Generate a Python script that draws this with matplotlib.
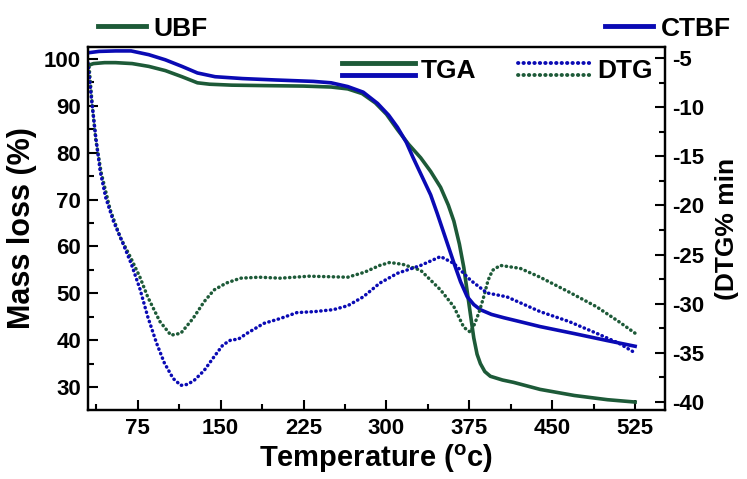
import matplotlib
matplotlib.use('Agg')
import matplotlib.pyplot as plt
from matplotlib.lines import Line2D
from matplotlib.legend_handler import HandlerBase
from matplotlib.ticker import MultipleLocator

plt.rcParams['font.family'] = ['Liberation Sans', 'DejaVu Sans']
plt.rcParams['font.weight'] = 'bold'
plt.rcParams['axes.labelweight'] = 'bold'
plt.rcParams['axes.unicode_minus'] = False
plt.rcParams['mathtext.fontset'] = 'custom'
plt.rcParams['mathtext.rm'] = 'Liberation Sans:bold'
plt.rcParams['mathtext.bf'] = 'Liberation Sans:bold'

# TGA, UBF (mass %)
tga_ubf_t = [30, 35, 45, 55, 70, 85, 100, 115, 129, 140, 160, 190, 225, 250, 265, 278, 290, 300,
             310, 320, 331, 340, 349, 356, 361, 366, 370, 373, 376, 379, 382, 385, 389, 394,
             405, 415, 439, 470, 500, 525]
tga_ubf_m = [98.6, 99.0, 99.2, 99.2, 99.0, 98.4, 97.5, 96.2, 94.9, 94.6, 94.4, 94.3, 94.2, 94.0,
             93.6, 92.6, 90.6, 88.2, 84.9, 81.8, 78.9, 76.0, 72.6, 68.8, 65.4, 60.5, 55.5, 50.5,
             45.5, 40.5, 37.0, 35.0, 33.3, 32.3, 31.5, 31.0, 29.5, 28.2, 27.3, 26.8]

# TGA, CTBF (mass %)
tga_ctbf_t = [30, 40, 55, 69, 85, 100, 115, 129, 145, 170, 200, 234, 250, 265, 279, 292, 302,
              310, 318, 324, 332, 340, 346, 351, 356, 361, 367, 373, 379, 385, 395, 406, 420,
              439, 470, 500, 525]
tga_ctbf_m = [101.3, 101.6, 101.7, 101.7, 100.9, 99.8, 98.4, 97.0, 96.2, 95.8, 95.5, 95.2,
              94.9, 94.1, 92.9, 90.5, 88.0, 85.4, 82.2, 79.0, 75.0, 71.0, 67.0, 63.5, 60.0, 56.5,
              52.5, 49.3, 47.6, 46.5, 45.5, 44.8, 44.0, 42.9, 41.4, 39.9, 38.7]

# DTG, UBF (%/min)
dtg_ubf_t = [31, 34, 37, 42, 50, 59, 69, 77, 84, 95, 105, 114, 125, 135, 144, 155, 168, 185,
             204, 230, 265, 280, 294, 303, 315, 331, 349, 361, 370, 376, 380, 384, 388, 392,
             396, 403, 421, 439, 465, 490, 510, 525]
dtg_ubf_v = [-5.9, -10.0, -13.3, -16.7, -20.4, -23.2, -25.4, -27.3, -29.3, -31.8, -33.2, -33.0,
             -31.5, -29.8, -28.6, -27.9, -27.4, -27.3, -27.4, -27.2, -27.3, -26.8, -26.1, -25.8,
             -26.0, -26.6, -28.6, -30.3, -32.4, -32.9, -32.0, -30.8, -29.3, -27.6, -26.6, -26.1,
             -26.4, -27.3, -28.8, -30.3, -31.8, -33.0]

# DTG, CTBF (%/min)
dtg_ctbf_t = [30, 33, 37, 41, 46, 53, 61, 69, 77, 84, 92, 99, 107, 114, 120, 126, 135, 144,
              152, 159, 166, 174, 189, 204, 219, 235, 252, 265, 279, 294, 310, 331, 349, 361,
              376, 391, 409, 439, 465, 490, 510, 525]
dtg_ctbf_v = [-5.5, -9.0, -13.0, -16.5, -19.2, -21.6, -23.7, -25.9, -28.5, -31.3, -34.0, -36.0,
              -37.6, -38.3, -38.2, -37.8, -36.8, -35.4, -34.2, -33.7, -33.6, -33.0, -32.0, -31.5,
              -30.9, -30.8, -30.6, -30.2, -29.3, -27.9, -26.9, -26.1, -25.2, -25.9, -27.6, -28.9,
              -29.3, -30.8, -31.8, -33.0, -34.0, -35.0]

x_ticks = [75, 150, 225, 300, 375, 450, 525]
green = '#1d5a38'
blue = '#0a0ab4'
dots = (0, (0.1, 1.3))


class Stacked(HandlerBase):
    # two handles drawn one above the other
    def create_artists(self, legend, orig_handle, xdescent, ydescent, width, height, fontsize, trans):
        arts = []
        for h, f in zip(orig_handle, (0.8, 0.15)):
            y = height * f - ydescent
            ln = Line2D([-xdescent, width - xdescent], [y, y])
            ln.update_from(h)
            ln.set_transform(trans)
            arts.append(ln)
        return arts


fig = plt.figure(figsize=(7.47, 4.79), dpi=100)
ax = fig.add_axes([0.1178, 0.144, 0.7724, 0.758])
ax2 = ax.twinx()

ax.plot(tga_ubf_t, tga_ubf_m, color=green, lw=2.6)
ax.plot(tga_ctbf_t, tga_ctbf_m, color=blue, lw=2.6)
ax2.plot(dtg_ubf_t, dtg_ubf_v, color=green, lw=2.5, linestyle=dots, dash_capstyle='round')
ax2.plot(dtg_ctbf_t, dtg_ctbf_v, color=blue, lw=2.5, linestyle=dots, dash_capstyle='round')

ax.set_xlim(30, 552)
ax.set_ylim(25.1, 102.55)
ax2.set_ylim(-40.81, -3.88)
ax.set_xticks(x_ticks)
ax.xaxis.set_minor_locator(MultipleLocator(37.5))
ax.set_yticks(range(30, 101, 10))
ax.yaxis.set_minor_locator(MultipleLocator(5))
ax2.set_yticks(range(-40, -4, 5))
ax2.yaxis.set_minor_locator(MultipleLocator(2.5))

ax.tick_params(axis='x', which='major', direction='in', length=7, width=1.5, labelsize=16, pad=6)
ax.tick_params(axis='x', which='minor', direction='in', length=4, width=1.5)
for a in (ax, ax2):
    a.tick_params(axis='y', which='major', direction='in', length=7, width=1.5, labelsize=16, pad=5)
    a.tick_params(axis='y', which='minor', direction='in', length=4, width=1.5)
    for s in a.spines.values():
        s.set_linewidth(1.6)

ax.set_xlabel('Temperature ($\\mathregular{^o}$c)', fontsize=21, labelpad=2)
ax.set_ylabel('Mass loss (%)', fontsize=22)
ax2.set_ylabel('(DTG% min', fontsize=19)
ax.yaxis.set_label_coords(-0.088, 0.5)
ax2.yaxis.set_label_coords(1.086, 0.5)

fig.legend([Line2D([], [], color=green, lw=3.5)], ['UBF'], loc='upper left',
           bbox_to_anchor=(0.1, 1.015), frameon=False, fontsize=19,
           handlelength=1.8, handletextpad=0.3)
fig.legend([Line2D([], [], color=blue, lw=3.5)], ['CTBF'], loc='upper right',
           bbox_to_anchor=(1.01, 1.015), frameon=False, fontsize=19,
           handlelength=1.8, handletextpad=0.3)

g_line = Line2D([], [], color=green, lw=3.5)
b_line = Line2D([], [], color=blue, lw=3.5)
g_dot = Line2D([], [], color=green, lw=2.8, linestyle=dots, dash_capstyle='round')
b_dot = Line2D([], [], color=blue, lw=2.8, linestyle=dots, dash_capstyle='round')
ax2.legend([(g_line, b_line), (b_dot, g_dot)], ['TGA', 'DTG'], handler_map={tuple: Stacked()},
           ncol=2, loc='upper right', frameon=False, fontsize=19, handlelength=2.8,
           handletextpad=0.2, columnspacing=1.6, borderaxespad=0.05)

fig.savefig('out.png', dpi=100)
